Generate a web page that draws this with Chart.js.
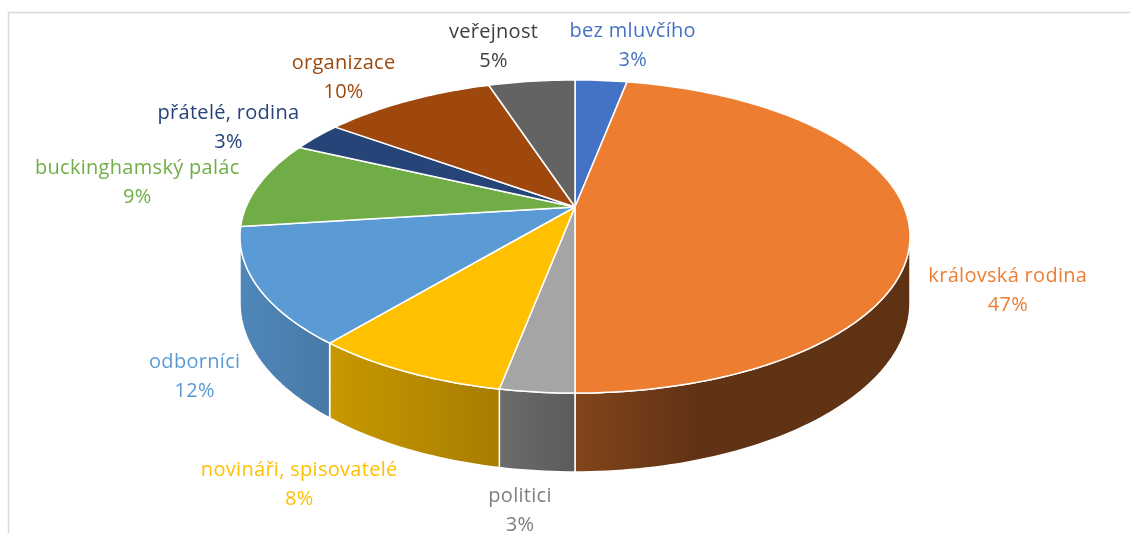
<!DOCTYPE html>
<html lang="cs">
<head>
<meta charset="utf-8">
<script src="https://cdn.jsdelivr.net/npm/chart.js@4.4.1/dist/chart.umd.min.js"></script>
<style>
  html, body { margin: 0; padding: 0; background: #fff; overflow: hidden; }
  #wrap { position: relative; width: 1130px; height: 533px; }
</style>
</head>
<body>
<div id="wrap"><canvas id="pie"></canvas></div>
<script>
const categories = ['bez mluvčího', 'královská rodina', 'politici', 'novináři, spisovatelé', 'odborníci', 'buckinghamský palác', 'přátelé, rodina', 'organizace', 'veřejnost'];
const shares = [3, 47, 3, 8, 12, 9, 3, 10, 5];
const sliceColors = ['#4472C4', '#ED7D31', '#A5A5A5', '#FFC000', '#5B9BD5', '#70AD47', '#264478', '#9E480E', '#636363'];
const labelColors = ['#4472C4', '#ED7D31', '#7F7F7F', '#FFC000', '#5B9BD5', '#70AD47', '#264478', '#9E480E', '#404040'];

// perspective look of the disc: A/B = horizontal/vertical radius, e = perspective strength, H = wall height
const TILT = { A: 329, B: 151, e: 0.1885, H: 64 };
// wall lighting from left to right: [position, brightness]
const WALL_LIGHT = [[0, 0.87], [0.13, 0.79], [0.39, 0.65], [0.5, 0.55], [0.68, 0.41], [1, 0.40]];
const FONT = '20px "Open Sans", Lato, sans-serif';

function shade(hex, f) {
    const n = parseInt(hex.slice(1), 16);
    const r = Math.round(((n >> 16) & 255) * f), g = Math.round(((n >> 8) & 255) * f), b = Math.round((n & 255) * f);
    return `rgb(${r},${g},${b})`;
}

// angle on the pie (as given by chart.js) -> point on screen, h = drop below the top face
function project(cx, cy, th, h) {
    const u = Math.cos(th), v = Math.sin(th), d = 1 - TILT.e * v;
    return [cx + TILT.A * u / d, cy + (TILT.B * v + h) / d];
}

function edge(ctx, cx, cy, a, b, h, first) {
    const n = Math.max(6, Math.ceil(Math.abs(b - a) / 0.02));
    for (let k = 0; k <= n; k++) {
        const [x, y] = project(cx, cy, a + (b - a) * k / n, h);
        if (k === 0 && first) ctx.moveTo(x, y); else ctx.lineTo(x, y);
    }
}

const pie3d = {
    id: 'pie3d',
    beforeDraw(chart) {
        // light frame on the left and top, like the original chart box
        const { ctx, width, height } = chart;
        ctx.save();
        ctx.strokeStyle = '#d9d9d9'; ctx.lineWidth = 1.5;
        ctx.beginPath(); ctx.moveTo(8.5, height); ctx.lineTo(8.5, 12.5); ctx.lineTo(width, 12.5); ctx.stroke();
        ctx.restore();
    },
    // the arcs are laid out by chart.js, drawn here in perspective
    beforeDatasetDraw(chart) {
        const { ctx } = chart;
        const arcs = chart.getDatasetMeta(0).data;
        const { x: cx, y: cy } = arcs[0];
        const t0 = Math.asin(TILT.e);
        const half = TILT.A / Math.sqrt(1 - TILT.e * TILT.e);
        ctx.save();
        ctx.lineJoin = 'round';
        ctx.strokeStyle = '#fff'; ctx.lineWidth = 1.5;
        // side walls facing the viewer
        arcs.forEach((arc, i) => {
            const a1 = Math.max(arc.startAngle, t0), a2 = Math.min(arc.endAngle, Math.PI - t0);
            if (a2 <= a1) return;
            const g = ctx.createLinearGradient(cx - half, 0, cx + half, 0);
            WALL_LIGHT.forEach(([p, f]) => g.addColorStop(p, shade(sliceColors[i], f)));
            ctx.beginPath();
            edge(ctx, cx, cy, a1, a2, 0, true);
            edge(ctx, cx, cy, a2, a1, TILT.H, false);
            ctx.closePath();
            ctx.fillStyle = g; ctx.fill(); ctx.stroke();
        });
        // top faces
        arcs.forEach((arc, i) => {
            ctx.beginPath();
            ctx.moveTo(cx, cy);
            edge(ctx, cx, cy, arc.startAngle, arc.endAngle, 0, false);
            ctx.closePath();
            ctx.fillStyle = sliceColors[i]; ctx.fill(); ctx.stroke();
        });
        ctx.restore();
        return false;
    },
    afterDatasetsDraw(chart) {
        const { ctx } = chart;
        const arcs = chart.getDatasetMeta(0).data;
        const { x: cx, y: cy } = arcs[0];
        const total = shares.reduce((a, b) => a + b, 0);
        ctx.save();
        ctx.font = FONT; ctx.letterSpacing = '0.3px';
        ctx.textAlign = 'center'; ctx.textBaseline = 'middle';
        arcs.forEach((arc, i) => {
            const mid = (arc.startAngle + arc.endAngle) / 2;
            const u = Math.cos(mid), v = Math.sin(mid);
            const [px, py] = project(cx, cy, mid, v > 0 ? TILT.H : 0);
            const w = ctx.measureText(categories[i]).width;
            const x = px + 20 * u + Math.max(-1, Math.min(1, 5 * u)) * w / 2;
            const y = v > 0 ? py + 40 * v : py + 35 * v * Math.abs(v);
            ctx.fillStyle = labelColors[i];
            ctx.fillText(categories[i], x, y - 14.5);
            ctx.fillText(Math.round(shares[i] / total * 100) + '%', x, y + 14.5);
        });
        ctx.restore();
    }
};

new Chart(document.getElementById('pie'), {
    type: 'pie',
    data: {
        labels: categories,
        datasets: [{ data: shares, backgroundColor: sliceColors, borderColor: '#fff', borderWidth: 1.5 }]
    },
    plugins: [pie3d],
    options: {
        responsive: true, maintainAspectRatio: false, animation: false, events: [],
        layout: { padding: { left: 375, right: 355, top: 7, bottom: 126 } },
        plugins: { legend: { display: false }, tooltip: { enabled: false } }
    }
});
</script>
</body>
</html>
